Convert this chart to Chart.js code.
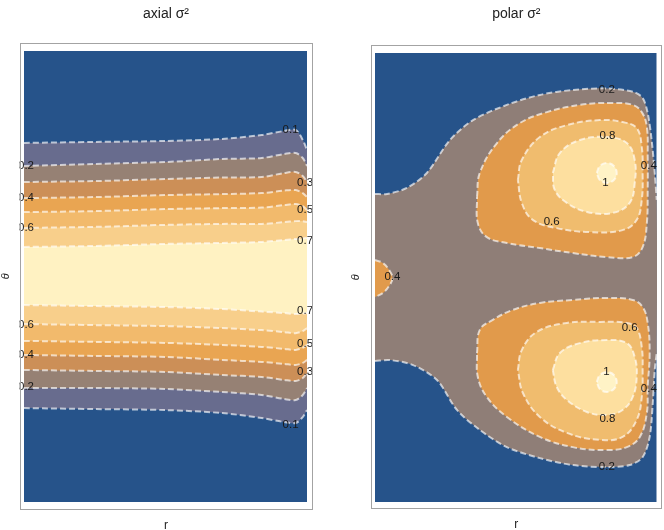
<!DOCTYPE html>
<html>
<head>
<meta charset="utf-8">
<script src="https://cdn.jsdelivr.net/npm/chart.js@4.4.1/dist/chart.umd.min.js"></script>
<style>
  html, body { margin: 0; padding: 0; background: #fff; }
  #wrap { position: relative; width: 664px; height: 530px; }
  #axial, #polar { position: absolute; top: 0; }
  #axial { left: 0; }
  #polar { left: 332px; }
</style>
</head>
<body>
<div id="wrap">
  <canvas id="axial" width="332" height="530"></canvas>
  <canvas id="polar" width="332" height="530"></canvas>
</div>
<script>
// --- axial sigma^2 : contour lines, theta (deg) read along r ---
const axialLevels = [0.1, 0.2, 0.3, 0.4, 0.5, 0.6, 0.7];
const axialR = [0, 0.25, 0.5, 0.7, 0.84, 0.92, 0.96, 0.985, 1];
const axialUpper = [
  [143.3, 143.7, 144.1, 144.9, 146.5, 148.1, 148.5, 144.5, 140.5],
  [134.1, 134.9, 135.7, 136.9, 137.3, 138.9, 139.3, 137.3, 134.1],
  [127.7, 128.1, 128.9, 129.5, 129.7, 131.3, 131.7, 130.1, 127.7],
  [121.3, 121.7, 122.5, 122.9, 123.3, 124.3, 124.5, 123.3, 121.7],
  [115.7, 116.1, 116.9, 117.3, 117.5, 118.5, 118.9, 118.1, 116.5],
  [109.4, 109.8, 110.6, 111.0, 111.0, 111.7, 112.1, 112.1, 111.7],
  [101.8, 102.2, 103.0, 103.4, 103.8, 104.6, 105.0, 105.2, 105.4]
];
const axialLower = [
  [37.5, 37.1, 36.7, 35.5, 33.5, 31.9, 31.5, 33.9, 36.7],
  [45.5, 45.5, 45.1, 43.9, 42.7, 41.1, 40.7, 42.7, 45.5],
  [52.7, 52.3, 51.9, 50.7, 49.9, 48.7, 48.3, 49.5, 51.5],
  [58.7, 58.3, 57.9, 56.7, 55.9, 55.1, 54.7, 55.5, 56.7],
  [64.3, 63.9, 63.5, 62.7, 61.9, 61.1, 60.7, 61.5, 62.7],
  [71.0, 70.6, 70.2, 69.4, 68.6, 67.8, 67.4, 68.2, 69.4],
  [78.6, 78.2, 77.8, 77.0, 76.0, 75.4, 75.0, 75.2, 75.4]
];
const axialColors = ["#686c8e", "#968174", "#cc8f57", "#e9a552", "#f2ba6c", "#f8cf8b", "#fff2c2"];
const axialLabelText = ["0.1", "0.2", "0.3", "0.4", "0.5", "0.6", "0.7", "0.7", "0.6", "0.5", "0.4", "0.3", "0.2", "0.1"];
const axialLabelR = [0.942, 0.007, 0.993, 0.007, 0.993, 0.007, 0.993, 0.993, 0.007, 0.993, 0.007, 0.993, 0.007, 0.942];
const axialLabelT = [148.5, 134.1, 127.2, 121.3, 116.5, 109.4, 104.2, 76.2, 70.6, 63.3, 58.7, 51.8, 46.0, 31.0];

// --- polar sigma^2 : contour curves as [r, theta] ---
const polarColors = ["#8f7e77", "#e19a4b", "#f0bc6e", "#fddf9f", "#fff3c6"];
const p02Top = [[0,123.5],[0.043,123.5],[0.113,125.9],[0.184,131.9],[0.266,145.1],[0.348,153.1],[0.468,159.2],[0.585,163.2],[0.702,165.2],[0.823,165.8],[0.915,164.5],[0.95,162.0],[0.968,155.9],[0.982,145.1],[0.993,131.9],[1,121.1]];
const p02Bot = [[0,56.5],[0.053,56.9],[0.135,54.9],[0.22,48.9],[0.291,36.9],[0.372,28.9],[0.468,22.0],[0.585,17.6],[0.702,14.8],[0.823,14.0],[0.904,14.8],[0.95,18.0],[0.975,26.1],[0.986,39.7],[0.993,52.9],[1,59.7]];
const p04Left = [[0,97.0],[0.028,95.8],[0.05,93.0],[0.062,89.8],[0.05,86.6],[0.028,83.8],[0,82.2]];
const p04Up = [[0.362,122.3],[0.372,131.9],[0.433,143.9],[0.514,151.9],[0.61,156.3],[0.727,159.2],[0.844,160.0],[0.915,159.2],[0.947,156.3],[0.965,150.3],[0.968,138.3],[0.968,125.1],[0.965,111.8],[0.95,102.2],[0.915,98.2],[0.823,98.2],[0.702,99.8],[0.585,101.8],[0.468,103.8],[0.397,106.2],[0.365,111.8]];
const p04Dn = [[0.362,59.7],[0.372,69.0],[0.418,73.0],[0.489,77.0],[0.585,79.8],[0.702,81.0],[0.823,81.8],[0.915,81.0],[0.95,78.2],[0.968,71.8],[0.975,59.7],[0.968,46.1],[0.965,35.7],[0.94,26.1],[0.894,22.0],[0.823,20.8],[0.702,22.0],[0.585,26.1],[0.468,34.1],[0.397,42.1],[0.365,50.1]];
const p06Up = [[0.507,129.1],[0.521,137.1],[0.585,146.3],[0.681,151.1],[0.798,153.1],[0.879,152.3],[0.929,149.9],[0.947,142.3],[0.95,131.9],[0.947,121.1],[0.929,113.1],[0.879,109.0],[0.762,108.2],[0.645,109.8],[0.56,113.1],[0.521,119.9]];
const p06Dn = [[0.507,52.9],[0.521,60.9],[0.574,68.2],[0.681,71.8],[0.798,72.2],[0.894,71.8],[0.929,69.8],[0.947,62.1],[0.95,52.9],[0.947,42.1],[0.929,32.9],[0.879,26.1],[0.798,24.9],[0.681,27.7],[0.585,34.1],[0.525,43.7]];
const p08Up = [[0.631,131.9],[0.656,139.9],[0.727,145.1],[0.823,146.3],[0.894,143.9],[0.922,137.1],[0.922,127.9],[0.904,119.9],[0.844,115.9],[0.752,116.3],[0.681,119.9],[0.638,125.1]];
const p08Dn = [[0.631,52.9],[0.656,59.7],[0.727,63.7],[0.823,64.9],[0.894,63.7],[0.922,58.1],[0.929,50.1],[0.915,42.1],[0.879,36.9],[0.823,34.9],[0.752,36.1],[0.681,40.9],[0.645,46.1]];
const p10Up = [[0.787,131.9],[0.798,134.7],[0.823,135.9],[0.848,134.7],[0.858,131.9],[0.848,129.1],[0.823,127.9],[0.798,129.1]];
const p10Dn = [[0.787,48.1],[0.798,50.9],[0.823,52.1],[0.848,50.9],[0.858,48.1],[0.848,45.3],[0.823,44.1],[0.798,45.3]];
const polarLabelText = ["0.2", "0.8", "0.4", "1", "0.6", "0.4", "0.6", "1", "0.4", "0.8", "0.2"];
const polarLabelR = [0.823, 0.825, 0.972, 0.818, 0.627, 0.062, 0.904, 0.822, 0.972, 0.825, 0.823];
const polarLabelT = [165.4, 146.7, 134.7, 127.8, 112.4, 90.3, 70.0, 52.0, 45.2, 33.3, 14.2];

const BLUE = "#26538a";
const FONT = '"Liberation Sans", Arial, sans-serif';
const dash = { borderColor: "rgba(255,255,255,0.65)", borderWidth: 2, borderDash: [6, 3], pointRadius: 0, tension: 0.3 };

function pts(list) {
  return list.map(p => ({ x: p[0], y: p[1] }));
}

function closed(list) {
  return pts(list.concat([list[0]]));
}

// labels on the contours + the grey frame
function labelPlugin(text, rs, ts) {
  return {
    id: "contourLabels",
    afterDatasetsDraw(chart) {
      const { ctx, chartArea: a, scales } = chart;
      ctx.save();
      ctx.beginPath();
      ctx.rect(a.left, a.top, a.right - a.left, a.bottom - a.top);
      ctx.clip();
      ctx.font = "11.5px " + FONT;
      ctx.fillStyle = "#1a1a1a";
      ctx.textAlign = "center";
      ctx.textBaseline = "middle";
      text.forEach((t, i) => {
        ctx.fillText(t, scales.x.getPixelForValue(rs[i]), scales.y.getPixelForValue(ts[i]));
      });
      ctx.restore();
      ctx.save();
      ctx.strokeStyle = "#a3a3a3";
      ctx.lineWidth = 1;
      ctx.strokeRect(Math.round(a.left) + 0.5, Math.round(a.top) + 0.5,
        Math.round(a.right - a.left) - 1, Math.round(a.bottom - a.top) - 1);
      ctx.restore();
    }
  };
}

function panelOptions(title, rRange, tRange, pad, titleBottom, xTitleTop, yTitleBottom) {
  return {
    responsive: false,
    animation: false,
    layout: { padding: pad },
    scales: {
      x: {
        type: "linear", min: rRange[0], max: rRange[1],
        title: { display: true, text: "r", color: "#222", font: { size: 12, family: FONT, lineHeight: 0.8 }, padding: { top: xTitleTop, bottom: 0 } },
        ticks: { display: false }, grid: { display: false, drawTicks: false }, border: { display: false }
      },
      y: {
        type: "linear", min: tRange[0], max: tRange[1],
        title: { display: true, text: "θ", color: "#222", font: { size: 11, family: FONT, style: "italic", lineHeight: 1 }, padding: { top: 0, bottom: yTitleBottom } },
        ticks: { display: false }, grid: { display: false, drawTicks: false }, border: { display: false }
      }
    },
    plugins: {
      legend: { display: false },
      tooltip: { enabled: false },
      filler: { propagate: false, drawTime: "beforeDatasetsDraw" },
      title: {
        display: true, text: title, fullSize: false, color: "#222",
        font: { size: 14, family: FONT, weight: "normal", lineHeight: 1.2 },
        padding: { top: 6, bottom: titleBottom }
      }
    }
  };
}

// axial: highest level first, so it is painted last
const axialSets = [];
for (let i = axialLevels.length - 1; i >= 0; i--) {
  axialSets.push({
    ...dash, backgroundColor: axialColors[i], fill: "+1",
    data: axialR.map((r, k) => ({ x: r, y: axialUpper[i][k] }))
  });
  axialSets.push({
    ...dash, fill: false,
    data: axialR.map((r, k) => ({ x: r, y: axialLower[i][k] }))
  });
}
axialSets.push({ data: [{ x: 0, y: 180 }, { x: 1, y: 180 }], borderWidth: 0, pointRadius: 0, backgroundColor: BLUE, fill: { value: 0 } });

new Chart(document.getElementById("axial"), {
  type: "line",
  data: { datasets: axialSets },
  options: panelOptions("axial σ²", [-0.0159, 1.0194], [-3.19, 183.31], { left: 0, right: 19.5, top: 0, bottom: 0 }, 19.9, 10.4, 8.5),
  plugins: [labelPlugin(axialLabelText, axialLabelR, axialLabelT)]
});

// polar
const loop = { ...dash, fill: "shape", tension: 0.4 };
const polarSets = [
  { ...loop, backgroundColor: polarColors[4], data: closed(p10Up) },
  { ...loop, backgroundColor: polarColors[4], data: closed(p10Dn) },
  { ...loop, backgroundColor: polarColors[3], data: closed(p08Up) },
  { ...loop, backgroundColor: polarColors[3], data: closed(p08Dn) },
  { ...loop, backgroundColor: polarColors[2], data: closed(p06Up) },
  { ...loop, backgroundColor: polarColors[2], data: closed(p06Dn) },
  { ...loop, backgroundColor: polarColors[1], data: closed(p04Up) },
  { ...loop, backgroundColor: polarColors[1], data: closed(p04Dn) },
  { ...loop, backgroundColor: polarColors[1], data: pts(p04Left) },
  { ...dash, fill: false, data: pts(p02Top) },
  { ...dash, fill: false, data: pts(p02Bot) },
  { borderWidth: 0, pointRadius: 0, tension: 0.3, fill: "shape", backgroundColor: polarColors[0],
    data: pts(p02Top.concat(p02Bot.slice().reverse())) },
  { data: [{ x: 0, y: 180 }, { x: 1, y: 180 }], borderWidth: 0, pointRadius: 0, backgroundColor: BLUE, fill: { value: 0 } }
];

new Chart(document.getElementById("polar"), {
  type: "line",
  data: { datasets: polarSets },
  options: panelOptions("polar σ²", [-0.0142, 1.0177], [-2.93, 183.09], { left: 18.5, right: 2.3, top: 0, bottom: 0.7 }, 22.5, 10.4, 9.5),
  plugins: [labelPlugin(polarLabelText, polarLabelR, polarLabelT)]
});
</script>
</body>
</html>
